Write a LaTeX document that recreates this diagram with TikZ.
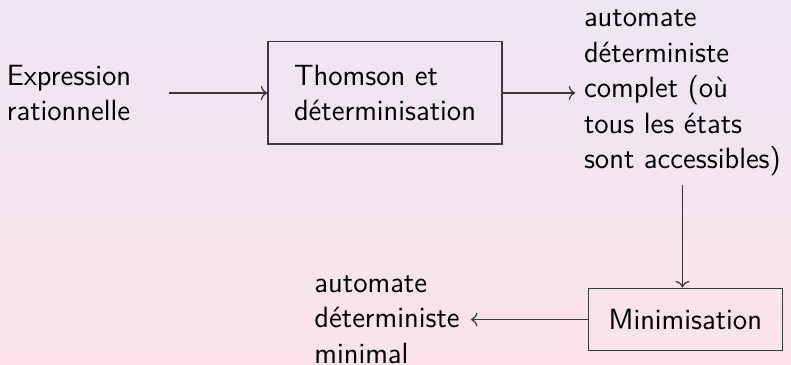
\documentclass[tikz,border=0pt]{standalone}
\usetikzlibrary{positioning,arrows.meta,backgrounds}
\definecolor{cTop}{HTML}{EEE6F4}
\definecolor{cBot}{HTML}{FBE3E9}
\definecolor{cL}{HTML}{3A3A3A}
\begin{document}
\begin{tikzpicture}[
  font=\sffamily\fontsize{11.9}{14.4}\selectfont,
  bx/.style={draw=cL,line width=.5pt,inner xsep=.29cm,inner ysep=.3cm,align=left},
  tx/.style={align=left,inner sep=.333em},
  ar/.style={->,cL,line width=.5pt}]
\useasboundingbox[top color=cTop,bottom color=cBot] (0,0) rectangle (11.3,5.214);
\node[bx,minimum width=3.34cm,minimum height=1.46cm] (thom) at (5.5,3.886) {Thomson et\\d\'eterminisation};
\node[tx,text width=2.19cm,left=1.41cm of thom] (expr) {Expression\\rationnelle};
\node[tx,right=1.04cm of thom] (adc)
  {automate\\d\'eterministe\\complet (o\`u\\tous les \'etats\\sont accessibles)};
\node[bx] (mini) at (9.79,.65) {Minimisation};
\node[tx,text width=2.11cm,left=1.67cm of mini] (adm) {automate\\d\'eterministe\\minimal};
\draw[ar] (expr) -- (thom);
\draw[ar] (thom) -- (adc);
\draw[ar] (adc.south) -- (adc.south |- mini.north);
\draw[ar] (mini) -- (adm);
\end{tikzpicture}
\end{document}
